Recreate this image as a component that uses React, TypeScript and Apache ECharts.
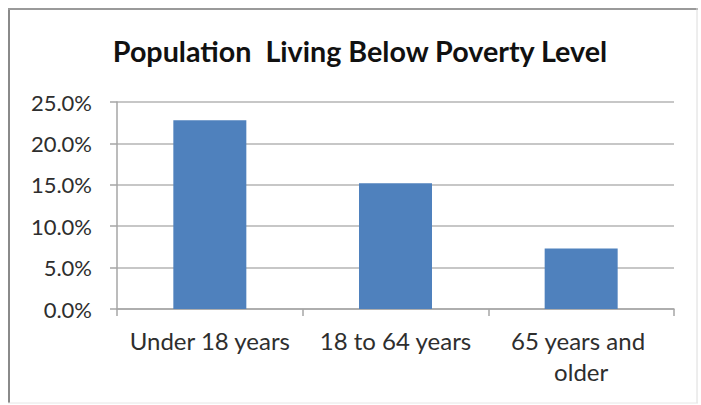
import React, { useEffect, useRef } from "react";
import * as echarts from "echarts";

const titleText = "Population  Living Below Poverty Level";
const categories = ["Under 18 years", "18 to 64 years", "65 years and older"];
const values = [22.8, 15.2, 7.3];
const yTicks = { min: 0, max: 25, interval: 5 };

export default function App() {
  const ref = useRef<HTMLDivElement>(null);
  useEffect(() => {
    if (!ref.current) return;
    const chart = echarts.init(ref.current, null, { renderer: "svg" });
    chart.setOption({
      animation: false,
      backgroundColor: "#ffffff",
      title: {
        text: titleText,
        left: 355,
        top: 31,
        textAlign: "center",
        textStyle: {
          fontFamily: "Lato",
          fontWeight: "bold",
          fontSize: 28.7,
          color: "#111111",
        },
      },
      graphic: [
        { type: "line", shape: { x1: 9, y1: 8, x2: 9, y2: 403 }, style: { stroke: "#8a8a8a", lineWidth: 2 } },
        { type: "line", shape: { x1: 8, y1: 9, x2: 698, y2: 9 }, style: { stroke: "#9a9a9a", lineWidth: 2 } },
        { type: "line", shape: { x1: 697, y1: 8, x2: 697, y2: 403 }, style: { stroke: "#dcdcdc", lineWidth: 1 } },
        { type: "line", shape: { x1: 8, y1: 403, x2: 698, y2: 403 }, style: { stroke: "#e6e6e6", lineWidth: 1 } },
      ],
      grid: { left: 117, right: 27, top: 102, bottom: 96 },
      xAxis: {
        type: "category",
        data: categories,
        boundaryGap: true,
        axisLine: { lineStyle: { color: "#a6a6a6", width: 1.5 } },
        axisTick: { show: true, length: 7, alignWithLabel: false, lineStyle: { color: "#a6a6a6", width: 1.5 } },
        axisLabel: {
          fontFamily: "Lato",
          fontSize: 24,
          color: "#2e2e2e",
          margin: 16,
          lineHeight: 31,
          width: 170,
          overflow: "break",
          interval: 0,
        },
      },
      yAxis: {
        type: "value",
        min: yTicks.min,
        max: yTicks.max,
        interval: yTicks.interval,
        axisLine: { show: true, lineStyle: { color: "#a6a6a6", width: 1.5 } },
        axisTick: { show: true, length: 7, lineStyle: { color: "#a6a6a6", width: 1.5 } },
        splitLine: { show: true, lineStyle: { color: "#b4b4b4", width: 1.5 } },
        axisLabel: {
          fontFamily: "Lato",
          fontSize: 22,
          color: "#2e2e2e",
          margin: 25,
          formatter: (v: number) => v.toFixed(1) + "%",
        },
      },
      series: [
        {
          type: "bar",
          data: values,
          barWidth: 73,
          itemStyle: { color: "#4f81bd" },
        },
      ],
    });
    return () => chart.dispose();
  }, []);
  return (
    <div
      ref={ref}
      style={{ position: "fixed", left: 0, top: 0, width: 701, height: 405 }}
    />
  );
}
